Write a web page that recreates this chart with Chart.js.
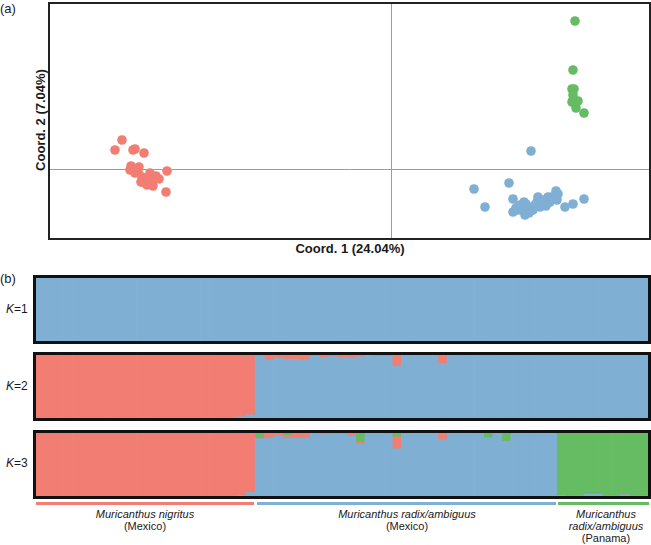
<!DOCTYPE html>
<html>
<head>
<meta charset="utf-8">
<script src="https://cdn.jsdelivr.net/npm/chart.js@4"></script>
<style>
    body { margin: 0; width: 651px; height: 545px; position: relative; overflow: hidden; background: #fff;
           font-family: "Liberation Sans", Arial, sans-serif; color: #1a1a1a; }
    .box { position: absolute; }
    .box canvas { display: block; }
    .t { position: absolute; white-space: nowrap; }
    .grp { position: absolute; text-align: center; font-size: 11px; line-height: 12px; transform: translateX(-50%); white-space: nowrap; }
    .bar { position: absolute; height: 3px; }
</style>
</head>
<body>
<div class="t" style="left:0;top:1px;font-size:13px;">(a)</div>
<div class="box" style="left:48px;top:2px;border:2px solid #222;">
    <canvas id="pca" width="599" height="234"></canvas>
</div>
<div class="t" style="left:350px;top:241px;transform:translateX(-50%);font-size:13px;font-weight:bold;">Coord. 1 (24.04%)</div>
<div class="t" style="left:40px;top:120px;transform:translate(-50%,-50%) rotate(-90deg);font-size:13px;font-weight:bold;">Coord. 2 (7.04%)</div>

<div class="t" style="left:0;top:271px;font-size:13px;">(b)</div>
<div class="t" style="left:6px;top:302px;font-size:12px;"><i>K</i>=1</div>
<div class="t" style="left:6px;top:379px;font-size:12px;"><i>K</i>=2</div>
<div class="t" style="left:6px;top:456px;font-size:12px;"><i>K</i>=3</div>
<div class="box" style="left:33px;top:275px;border:3px solid #111;"><canvas id="k1" width="612" height="63"></canvas></div>
<div class="box" style="left:33px;top:352px;border:3px solid #111;"><canvas id="k2" width="612" height="63"></canvas></div>
<div class="box" style="left:33px;top:430px;border:3px solid #111;"><canvas id="k3" width="612" height="63"></canvas></div>

<div class="bar" style="left:36px;width:218px;top:502px;background:rgb(242,125,114);"></div>
<div class="bar" style="left:257px;width:299px;top:502px;background:rgb(127,175,210);"></div>
<div class="bar" style="left:558px;width:91px;top:502px;background:rgb(101,188,99);"></div>
<div class="grp" style="left:145px;top:508px;"><i>Muricanthus nigritus</i><br>(Mexico)</div>
<div class="grp" style="left:407px;top:508px;"><i>Muricanthus radix/ambiguus</i><br>(Mexico)</div>
<div class="grp" style="left:606px;top:508px;"><i>Muricanthus</i><br><i>radix/ambiguus</i><br>(Panama)</div>

<script>
const RED = 'rgb(242,125,114)';
const BLUE = 'rgb(127,175,210)';
const GREEN = 'rgb(101,188,99)';

// (a) PCoA coordinates
const nigritusX = [-2.70, -2.77, -2.59, -2.57, -2.48, -2.61, -2.53, -2.25, -2.62, -2.57, -2.42, -2.50,
                   -2.45, -2.39, -2.33, -2.51, -2.45, -2.39, -2.26, -2.54, -2.47, -2.36, -2.43, -2.55];
const nigritusY = [0.30, 0.20, 0.20, 0.21, 0.17, 0.04, 0.03, -0.01, 0.00, -0.03, -0.03, -0.07,
                   -0.08, -0.08, -0.09, -0.12, -0.15, -0.16, -0.22, -0.02, -0.13, -0.06, -0.10, -0.01];
const mexRadixX = [1.39, 1.17, 0.82, 1.21, 0.93, 1.32, 1.46, 1.56, 1.64, 1.65, 1.73, 1.81, 1.92, 1.21,
                   1.26, 1.33, 1.38, 1.43, 1.48, 1.53, 1.58, 1.35, 1.30, 1.41, 1.50, 1.60, 1.24, 1.37,
                   1.45, 1.54, 1.28, 1.66, 1.34];
const mexRadixY = [0.19, -0.13, -0.19, -0.29, -0.37, -0.32, -0.27, -0.27, -0.21, -0.30, -0.37, -0.34, -0.29, -0.42,
                   -0.40, -0.45, -0.38, -0.35, -0.37, -0.33, -0.32, -0.37, -0.40, -0.40, -0.30, -0.27, -0.38, -0.43,
                   -0.32, -0.36, -0.35, -0.24, -0.34];
const panRadixX = [1.83, 1.81, 1.80, 1.82, 1.81, 1.81, 1.86, 1.80, 1.84, 1.92];
const panRadixY = [1.49, 1.00, 0.81, 0.81, 0.75, 0.70, 0.69, 0.68, 0.62, 0.57];

// (b) STRUCTURE membership, 24 nigritus + 33 radix/ambiguus Mexico + 10 Panama
const k1Blue = [
    1,1,1,1,1,1,1,1,1,1,1,1,1,1,1,1,1,1,1,1,1,1,1,1,
    1,1,1,1,1,1,1,1,1,1,1,1,1,1,1,1,1,1,1,1,1,1,1,1,1,1,1,1,1,1,1,1,1,
    1,1,1,1,1,1,1,1,1,1];
const k2Red = [
    1,1,1,1,1,1,1,1,1,1,1,1,1,1,1,1,1,1,1,1,1,1,0.98,0.95,
    0.015,0.075,0.055,0.065,0.07,0.075,0.015,0.04,0.025,0.04,0.045,0.03,0,0.02,0.02,0.18,0,0,0,0,0.13,0,0.01,0,0,0.01,0,0,0.01,0,0,0.01,0.01,
    0,0,0,0,0,0,0,0,0,0];
const k3Red = [
    1,1,1,1,1,1,1,1,1,1,1,1,1,1,1,1,1,1,1,1,1,1,0.99,0.945,
    0,0.08,0.045,0.045,0.07,0.075,0,0.025,0.02,0.02,0.045,0.035,0,0,0.01,0.19,0,0,0,0,0.11,0,0,0,0,0,0,0,0,0,0,0,0,
    0,0,0,0,0,0,0,0,0,0];
const k3Green = [
    0,0,0,0,0,0,0,0,0,0,0,0,0,0,0,0,0,0,0,0,0,0,0,0,
    0.09,0,0,0.04,0.01,0.01,0,0,0,0,0,0.14,0,0,0,0.06,0,0,0,0,0,0,0,0,0,0.075,0,0.13,0,0,0,0,0,
    0.99,1,1,0.97,0.97,1,1,0.98,1,1];
const k2Blue = k2Red.map(v => 1 - v);
const k3Blue = k3Red.map((v, i) => 1 - v - k3Green[i]);
const individuals = k1Blue.map((v, i) => 'ind' + (i + 1));

const pts = (xs, ys) => xs.map((x, i) => ({x: x, y: ys[i]}));
const zeroLine = {
    drawTicks: false,
    lineWidth: 1,
    color: c => c.tick && c.tick.value === 0 ? '#9c9c9c' : 'transparent'
};

new Chart(document.getElementById('pca'), {
    type: 'scatter',
    data: {
        datasets: [
            {data: pts(nigritusX, nigritusY), backgroundColor: RED},
            {data: pts(mexRadixX, mexRadixY), backgroundColor: BLUE},
            {data: pts(panRadixX, panRadixY), backgroundColor: GREEN}
        ]
    },
    options: {
        responsive: false,
        animation: false,
        layout: {padding: 0, autoPadding: false},
        elements: {point: {radius: 4.8, borderWidth: 0}},
        plugins: {legend: {display: false}, tooltip: {enabled: false}},
        scales: {
            x: {
                min: -3.42, max: 2.57,
                ticks: {display: false}, border: {display: false}, grid: zeroLine,
                afterBuildTicks: s => { s.ticks = [{value: 0}]; }
            },
            y: {
                min: -0.68, max: 1.66,
                ticks: {display: false}, border: {display: false}, grid: zeroLine,
                afterBuildTicks: s => { s.ticks = [{value: 0}]; }
            }
        }
    }
});

function structure(id, sets) {
    new Chart(document.getElementById(id), {
        type: 'bar',
        data: {
            labels: individuals,
            datasets: sets.map(s => ({
                data: s[0], backgroundColor: s[1], borderWidth: 0,
                barPercentage: 1, categoryPercentage: 1
            }))
        },
        options: {
            responsive: false,
            animation: false,
            layout: {padding: 0},
            plugins: {legend: {display: false}, tooltip: {enabled: false}},
            scales: {
                x: {stacked: true, display: false},
                y: {stacked: true, display: false, min: 0, max: 1}
            }
        }
    });
}

// stack order bottom -> top: blue, red, green
structure('k1', [[k1Blue, BLUE]]);
structure('k2', [[k2Blue, BLUE], [k2Red, RED]]);
structure('k3', [[k3Blue, BLUE], [k3Red, RED], [k3Green, GREEN]]);
</script>
</body>
</html>
